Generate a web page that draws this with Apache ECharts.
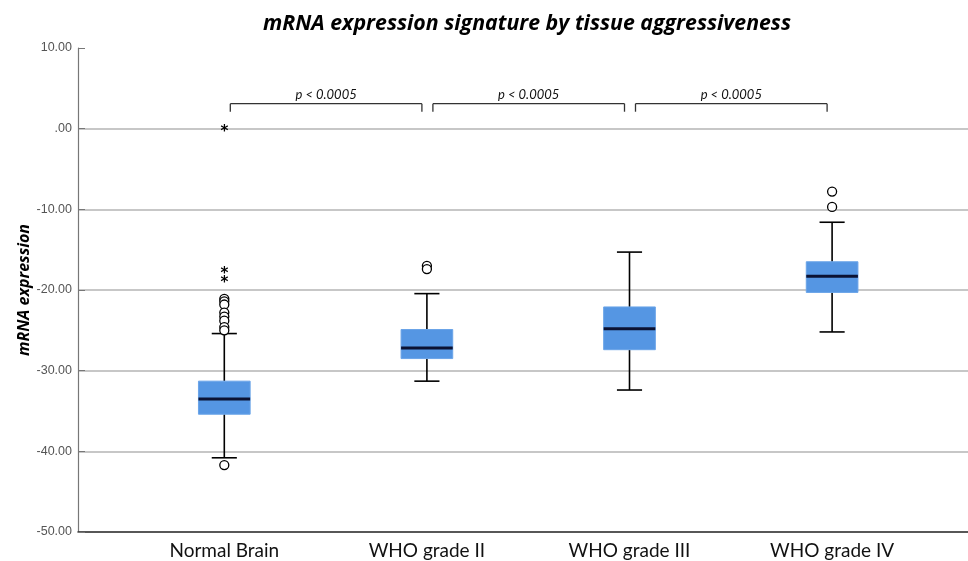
<!DOCTYPE html>
<html>
<head>
<meta charset="utf-8">
<script src="https://cdn.jsdelivr.net/npm/echarts@6/dist/echarts.min.js"></script>
<style>
  html, body { margin: 0; padding: 0; background: #fff; }
  #chart { width: 968px; height: 561px; }
</style>
</head>
<body>
<div id="chart"></div>
<script>
var categories = ['Normal Brain', 'WHO grade II', 'WHO grade III', 'WHO grade IV'];
// [lower whisker, Q1, median, Q3, upper whisker]
var boxStats = [
  [-40.8, -35.4, -33.5, -31.3, -25.4],
  [-31.3, -28.5, -27.2, -24.9, -20.45],
  [-32.4, -27.4, -24.8, -22.1, -15.3],
  [-25.2, -20.3, -18.3, -16.5, -11.6]
];
// open circle outliers [category index, value]
var outliers = [
  [0, -21.1], [0, -21.4], [0, -21.8], [0, -22.8], [0, -23.3], [0, -23.8], [0, -24.6], [0, -25.0],
  [0, -41.7],
  [1, -17.0], [1, -17.4],
  [3, -7.8], [3, -9.7]
];
// extreme outliers (asterisks)
var extremes = [[0, 0.0], [0, -17.6], [0, -18.8]];
var pLabels = ['p < 0.0005', 'p < 0.0005', 'p < 0.0005'];
var yTicks = [10, 0, -10, -20, -30, -40, -50];

var chart = echarts.init(document.getElementById('chart'));

var boxData = boxStats.map(function (s, i) {
  return [i].concat(s);
});
var bracketData = pLabels.map(function (p, i) {
  return [i, 3.1, 2.1];
});

function fmtY(v) {
  var s = v.toFixed(2);
  if (s === '0.00') s = '.00';
  return s;
}

function renderBox(params, api) {
  var c = api.value(0);
  var lo = api.coord([c, api.value(1)]);
  var q1 = api.coord([c, api.value(2)]);
  var med = api.coord([c, api.value(3)]);
  var q3 = api.coord([c, api.value(4)]);
  var hi = api.coord([c, api.value(5)]);
  var band = api.size([1, 0])[0];
  var bw = band * 0.255;
  var cw = band * 0.124;
  var x = lo[0];
  var ws = { stroke: '#000', lineWidth: 1.6 };
  return {
    type: 'group',
    children: [
      { type: 'line', shape: { x1: x, y1: lo[1], x2: x, y2: q1[1] }, style: ws },
      { type: 'line', shape: { x1: x, y1: q3[1], x2: x, y2: hi[1] }, style: ws },
      { type: 'line', shape: { x1: x - cw / 2, y1: lo[1], x2: x + cw / 2, y2: lo[1] }, style: ws },
      { type: 'line', shape: { x1: x - cw / 2, y1: hi[1], x2: x + cw / 2, y2: hi[1] }, style: ws },
      { type: 'rect', shape: { x: x - bw / 2, y: q3[1], width: bw, height: q1[1] - q3[1] },
        style: { fill: '#5596e3', stroke: '#6aa4e8', lineWidth: 1 } },
      { type: 'line', shape: { x1: x - bw / 2, y1: med[1], x2: x + bw / 2, y2: med[1] },
        style: { stroke: '#0b1233', lineWidth: 3 } }
    ]
  };
}

function renderBracket(params, api) {
  var i = api.value(0);
  var a = api.coord([i, api.value(1)]);
  var b = api.coord([i + 1, api.value(1)]);
  var d = api.coord([i, api.value(2)]);
  var x1 = a[0] + 6, x2 = b[0] - 5;
  var st = { stroke: '#333', lineWidth: 1.3 };
  return {
    type: 'group',
    children: [
      { type: 'line', shape: { x1: x1, y1: a[1], x2: x2, y2: a[1] }, style: st },
      { type: 'line', shape: { x1: x1, y1: a[1], x2: x1, y2: d[1] }, style: st },
      { type: 'line', shape: { x1: x2, y1: a[1], x2: x2, y2: d[1] }, style: st },
      { type: 'text', x: (x1 + x2) / 2, y: a[1] - 9,
        style: { text: pLabels[params.dataIndex], fill: '#111', fontSize: 13, fontStyle: 'italic',
          fontFamily: 'Lato', align: 'center', verticalAlign: 'middle' } }
    ]
  };
}

function renderStar(params, api) {
  var p = api.coord([api.value(0), api.value(1)]);
  return {
    type: 'text', x: p[0], y: p[1] + 3,
    style: { text: '*', fill: '#000', fontSize: 15, fontWeight: 'bold', fontFamily: 'DejaVu Sans',
      align: 'center', verticalAlign: 'middle' }
  };
}

var option = {
  backgroundColor: '#fff',
  animation: false,
  title: {
    text: 'mRNA expression signature by tissue aggressiveness',
    left: 522, top: 8, textAlign: 'center',
    textStyle: { fontSize: 21.3, fontWeight: 'bold', fontStyle: 'italic', fontFamily: 'Open Sans', color: '#000' }
  },
  grid: [
    { left: 78, right: 0, top: 48, bottom: 29 },
    { left: 123, right: 34.6, top: 48, bottom: 29 },
    { left: 78, right: 0, top: 129, bottom: 29 }
  ],
  xAxis: [
    { gridIndex: 0, type: 'value', min: 0, max: 1,
      axisLine: { show: true, onZero: false, lineStyle: { color: '#333', width: 1.5 } },
      axisTick: { show: false }, axisLabel: { show: false }, splitLine: { show: false } },
    { gridIndex: 1, type: 'category', data: categories,
      axisLine: { show: false }, axisTick: { show: false },
      axisLabel: { color: '#111', fontSize: 19, fontFamily: 'Lato', margin: 9 } },
    { gridIndex: 2, type: 'value', show: false, min: 0, max: 1 }
  ],
  yAxis: [
    { gridIndex: 0, type: 'value', min: yTicks[yTicks.length - 1], max: yTicks[0], interval: 10,
      name: 'mRNA expression', nameLocation: 'middle', nameGap: 46, nameMoveOverlap: false,
      nameTextStyle: { fontSize: 16, fontWeight: 'bold', fontStyle: 'italic', fontFamily: 'Open Sans', color: '#000' },
      axisLine: { show: true, lineStyle: { color: '#777', width: 1.2 } },
      axisTick: { show: true, inside: true, length: 7, lineStyle: { color: '#777' } },
      axisLabel: { color: '#555', fontSize: 12.5, fontFamily: 'Liberation Sans', margin: 6, formatter: fmtY },
      splitLine: { show: false } },
    { gridIndex: 1, type: 'value', min: -50, max: 10, show: false },
    { gridIndex: 2, type: 'value', min: -50, max: 0, interval: 10,
      axisLine: { show: false }, axisTick: { show: false }, axisLabel: { show: false },
      splitLine: { show: true, lineStyle: { color: '#b4b4b4', width: 1.5 } } }
  ],
  series: [
    { type: 'custom', xAxisIndex: 1, yAxisIndex: 1, renderItem: renderBox, data: boxData, z: 3 },
    { type: 'scatter', xAxisIndex: 1, yAxisIndex: 1, data: outliers, symbol: 'circle', symbolSize: 9,
      itemStyle: { color: '#fff', borderColor: '#000', borderWidth: 1.3, opacity: 1 }, z: 4 },
    { type: 'custom', xAxisIndex: 1, yAxisIndex: 1, renderItem: renderStar, data: extremes, z: 4 },
    { type: 'custom', xAxisIndex: 1, yAxisIndex: 1, renderItem: renderBracket, data: bracketData, z: 4 }
  ]
};

chart.setOption(option);
</script>
</body>
</html>
